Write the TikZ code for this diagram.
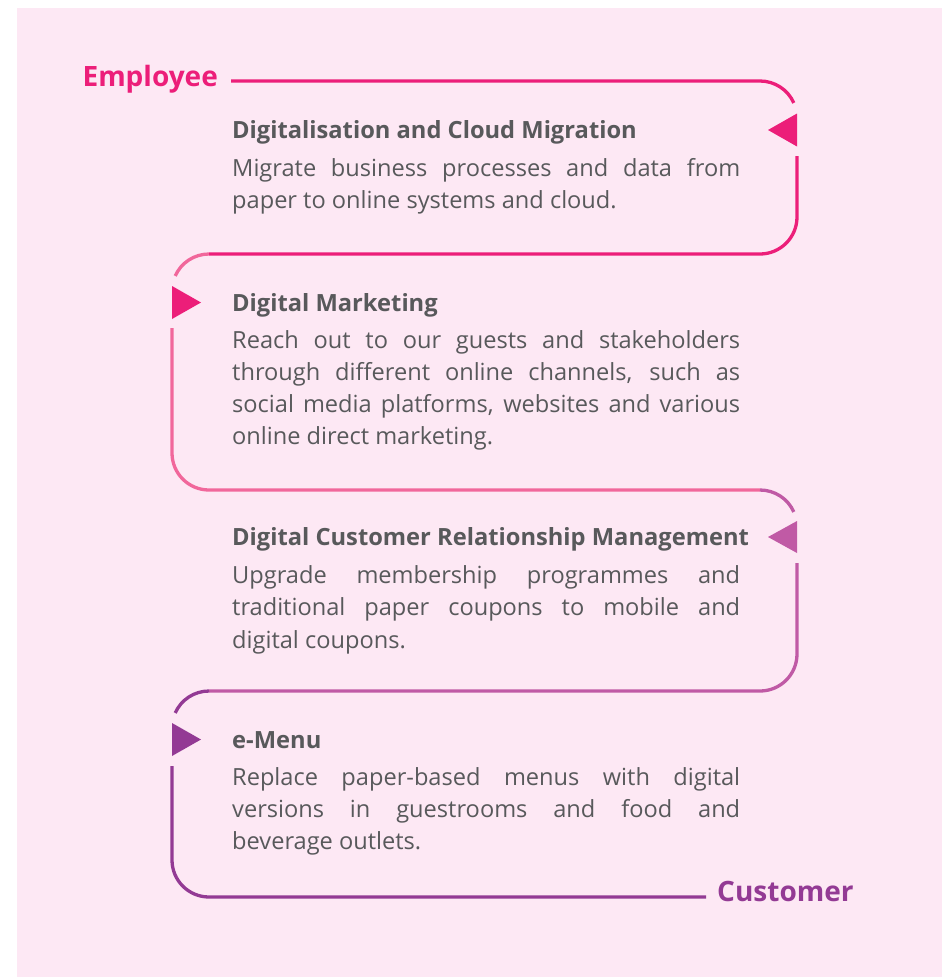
\documentclass[tikz,border=0pt]{standalone}
\usepackage{fontspec}
\setmainfont{Open Sans}
\definecolor{bgpink}{HTML}{FDE8F4}
\definecolor{cone}{HTML}{EC1E79}
\definecolor{ctwo}{HTML}{F1679B}
\definecolor{cthree}{HTML}{C05AA5}
\definecolor{cfour}{HTML}{933A94}
\definecolor{txtgray}{HTML}{58595B}
% one justified line of fixed width
\newcommand\jl[1]{\makebox[508pt][s]{#1}}
\tikzset{
  track/.style={line width=3.3pt},
  heading/.style={anchor=base west, inner sep=0pt, text=txtgray,
    font=\fontsize{23.7}{28}\selectfont\bfseries},
  bodytext/.style={anchor=base west, inner sep=0pt, text=txtgray, align=left,
    font=\fontsize{23.6}{32.3}\selectfont},
  endlabel/.style={inner sep=0pt, font=\fontsize{28}{34}\selectfont\bfseries},
}
\begin{document}
\begin{tikzpicture}[x=1pt,y=-1pt]
\useasboundingbox (0,0) rectangle (942,977);
\fill[bgpink] (17,8) rectangle (942,977);

% end labels
\node[endlabel, text=cone, anchor=base east] (emp) at (218,86) {Employee};
\node[endlabel, text=cfour, anchor=base west] (cus) at (717,901) {Customer};

% stage texts (body nodes are placed by the baseline of their last line)
\node[heading] (t1) at (232,138) {Digitalisation and Cloud Migration};
\node[bodytext] (b1) at (232,208.3)
  {\jl{Migrate business processes and data from}\\paper to online systems and cloud.};

\node[heading] (t2) at (232,311) {Digital Marketing};
\node[bodytext] (b2) at (232,444.9)
  {\jl{Reach out to our guests and stakeholders}\\
   \jl{through different online channels, such as}\\
   \jl{social media platforms, websites and various}\\
   online direct marketing.};

\node[heading] (t3) at (232,545) {Digital Customer Relationship Management};
\node[bodytext] (b3) at (232,648.1)
  {\jl{Upgrade membership programmes and}\\
   \jl{traditional paper coupons to mobile and}\\
   digital coupons.};

\node[heading] (t4) at (232,748) {e-Menu};
\node[bodytext] (b4) at (232,849.6)
  {\jl{Replace paper-based menus with digital}\\
   \jl{versions in guestrooms and food and}\\
   beverage outlets.};

% track anchor points
\coordinate (s0) at (231,81);
\coordinate (e4) at (706,897);

% first loop
\draw[track, cone] (s0) -- (760,81) arc[start angle=-90, end angle=-24, radius=37];
\draw[track, cone] (797,156) -- (797,217) arc[start angle=0, end angle=90, radius=37] -- (209,254);
\fill[cone] (797,113.5) -- (768,130) -- (797,146.5) -- cycle;

% second loop
\draw[track, ctwo] (209,254) arc[start angle=-90, end angle=-156, radius=37];
\draw[track, ctwo] (172,328) -- (172,453) arc[start angle=180, end angle=90, radius=37] -- (760,490);
\fill[cone] (172,286) -- (201,302.5) -- (172,319) -- cycle;

% third loop
\draw[track, cthree] (760,490) arc[start angle=-90, end angle=-24, radius=37];
\draw[track, cthree] (797,563) -- (797,654) arc[start angle=0, end angle=90, radius=37] -- (209,691);
\fill[cthree] (797,521) -- (768,537) -- (797,553) -- cycle;

% fourth loop
\draw[track, cfour] (209,691) arc[start angle=-90, end angle=-156, radius=37];
\draw[track, cfour] (172,766) -- (172,860) arc[start angle=180, end angle=90, radius=37] -- (e4);
\fill[cfour] (172,723) -- (201,739.5) -- (172,756) -- cycle;
\end{tikzpicture}
\end{document}
